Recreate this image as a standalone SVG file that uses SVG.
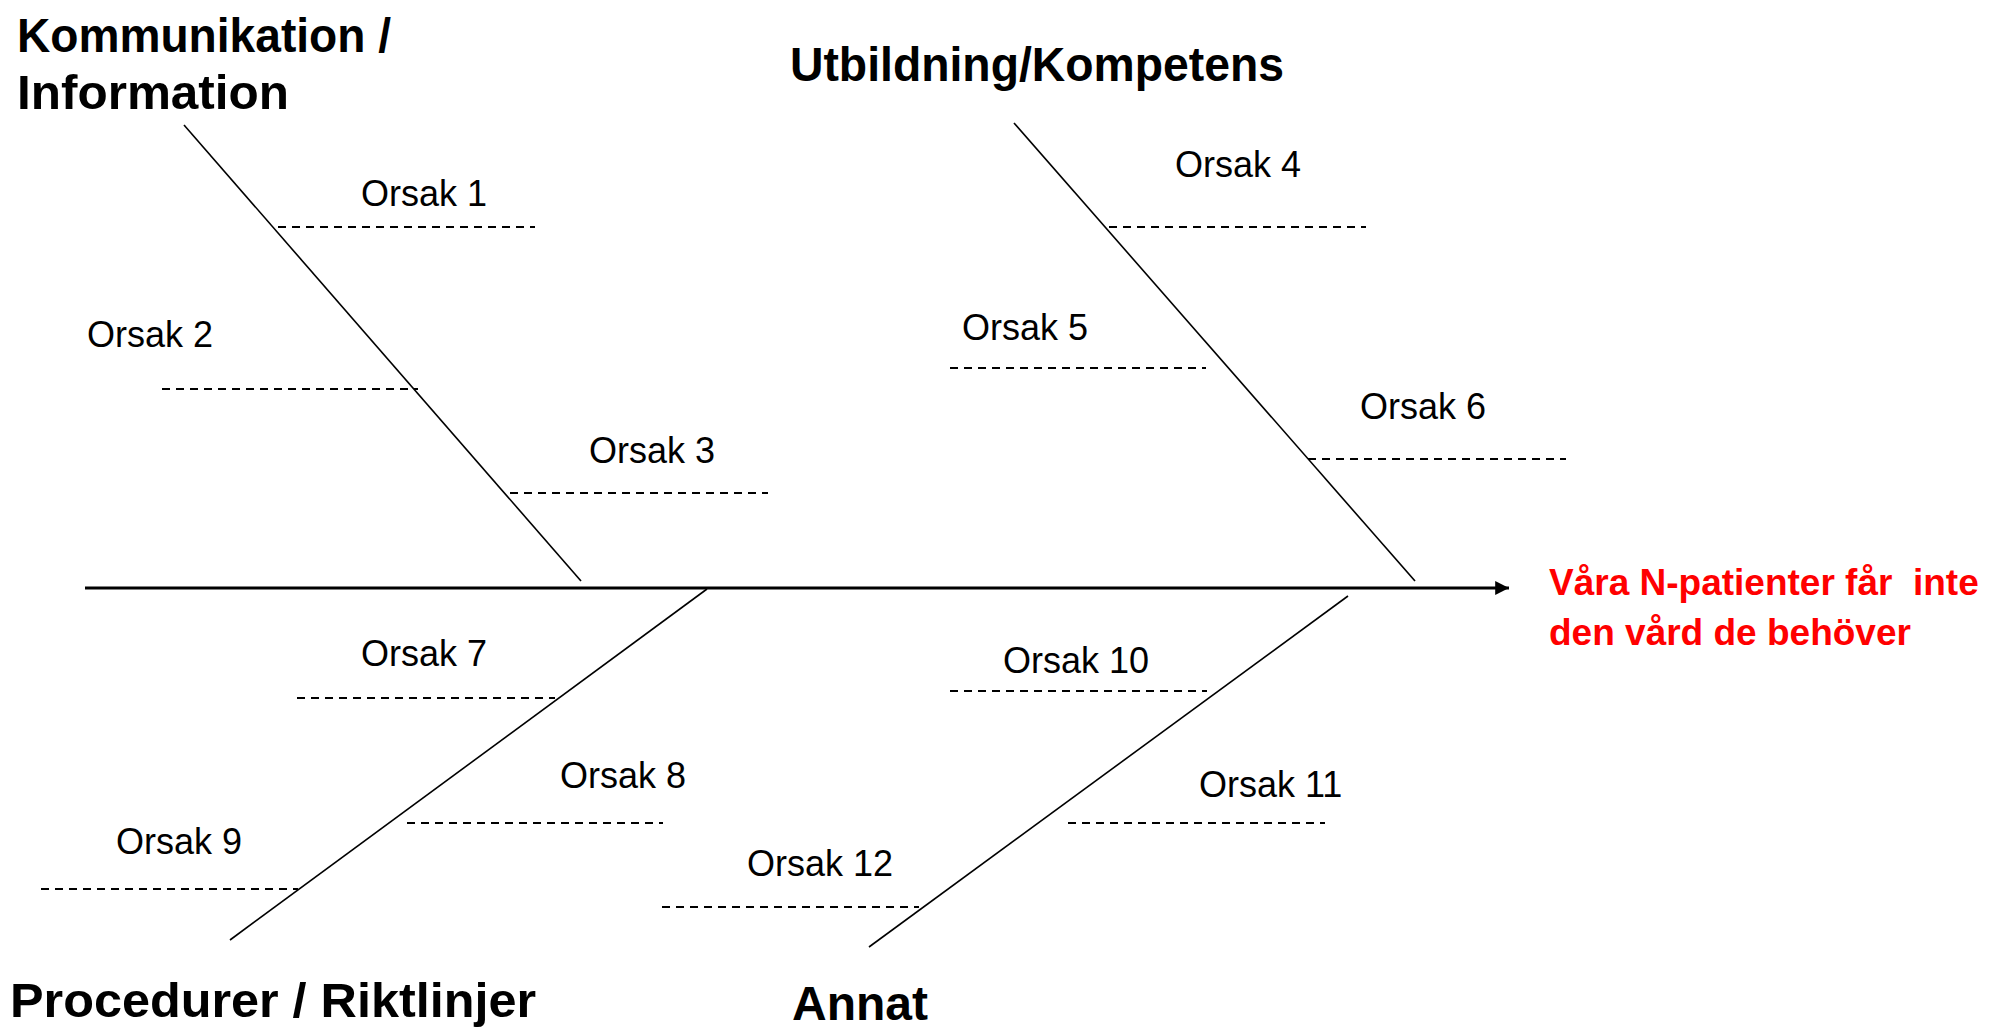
<svg xmlns="http://www.w3.org/2000/svg" width="1993" height="1031" viewBox="0 0 1993 1031">
<style>
.hd{font-family:"Liberation Sans",Arial,sans-serif;font-weight:bold;font-size:48px;fill:#000}
.cs{font-family:"Liberation Sans",Arial,sans-serif;font-size:36px;fill:#000}
.ef{font-family:"Liberation Sans",Arial,sans-serif;font-weight:bold;font-size:37px;fill:#ff0000}
.dash{stroke:#000;stroke-width:2;stroke-dasharray:8 6;fill:none}
.bone{stroke:#000;stroke-width:1.6;fill:none}
.spine{stroke:#000;stroke-width:3;fill:none}
</style>
<defs>
<marker id="arr" viewBox="0 0 10 10" refX="10" refY="5" markerWidth="5" markerHeight="4.6" markerUnits="strokeWidth" orient="auto">
<path d="M0,0 L10,5 L0,10 z" fill="#000"/>
</marker>
</defs>
<rect width="1993" height="1031" fill="#fff"/>
<g id="connectors">
<line class="spine" x1="85" y1="588" x2="1509" y2="588" marker-end="url(#arr)"/>
<line class="bone" x1="184" y1="125" x2="581" y2="581"/>
<line class="bone" x1="1014" y1="123" x2="1415" y2="581"/>
<line class="bone" x1="707" y1="589" x2="230" y2="940"/>
<line class="bone" x1="1348" y1="596" x2="869" y2="947"/>
</g>
<g id="cat-kommunikation">
<text class="hd" x="17" y="52" textLength="374" lengthAdjust="spacingAndGlyphs">Kommunikation /</text>
<text class="hd" x="17" y="109" textLength="272" lengthAdjust="spacingAndGlyphs">Information</text>
</g>
<g id="cat-utbildning">
<text class="hd" x="790" y="81" textLength="494" lengthAdjust="spacingAndGlyphs">Utbildning/Kompetens</text>
</g>
<g id="cat-procedurer">
<text class="hd" x="10" y="1017" textLength="526" lengthAdjust="spacingAndGlyphs">Procedurer / Riktlinjer</text>
</g>
<g id="cat-annat">
<text class="hd" x="792" y="1020" textLength="136" lengthAdjust="spacingAndGlyphs">Annat</text>
</g>
<g id="effect">
<text class="ef" x="1549" y="595" xml:space="preserve">Våra N-patienter får  inte</text>
<text class="ef" x="1549" y="645">den vård de behöver</text>
</g>
<g id="orsak1"><text class="cs" x="361" y="206">Orsak 1</text><line class="dash" x1="278" y1="227" x2="535" y2="227"/></g>
<g id="orsak2"><text class="cs" x="87" y="347">Orsak 2</text><line class="dash" x1="162" y1="389" x2="418" y2="389"/></g>
<g id="orsak3"><text class="cs" x="589" y="463">Orsak 3</text><line class="dash" x1="510" y1="493" x2="768" y2="493"/></g>
<g id="orsak4"><text class="cs" x="1175" y="177">Orsak 4</text><line class="dash" x1="1109" y1="227" x2="1366" y2="227"/></g>
<g id="orsak5"><text class="cs" x="962" y="340">Orsak 5</text><line class="dash" x1="950" y1="368" x2="1206" y2="368"/></g>
<g id="orsak6"><text class="cs" x="1360" y="419">Orsak 6</text><line class="dash" x1="1308" y1="459" x2="1566" y2="459"/></g>
<g id="orsak7"><text class="cs" x="361" y="666">Orsak 7</text><line class="dash" x1="297" y1="698" x2="555" y2="698"/></g>
<g id="orsak8"><text class="cs" x="560" y="788">Orsak 8</text><line class="dash" x1="407" y1="823" x2="663" y2="823"/></g>
<g id="orsak9"><text class="cs" x="116" y="854">Orsak 9</text><line class="dash" x1="41" y1="889" x2="298" y2="889"/></g>
<g id="orsak10"><text class="cs" x="1003" y="673">Orsak 10</text><line class="dash" x1="950" y1="691" x2="1207" y2="691"/></g>
<g id="orsak11"><text class="cs" x="1199" y="797">Orsak 11</text><line class="dash" x1="1068" y1="823" x2="1325" y2="823"/></g>
<g id="orsak12"><text class="cs" x="747" y="876">Orsak 12</text><line class="dash" x1="662" y1="907" x2="919" y2="907"/></g>
</svg>
